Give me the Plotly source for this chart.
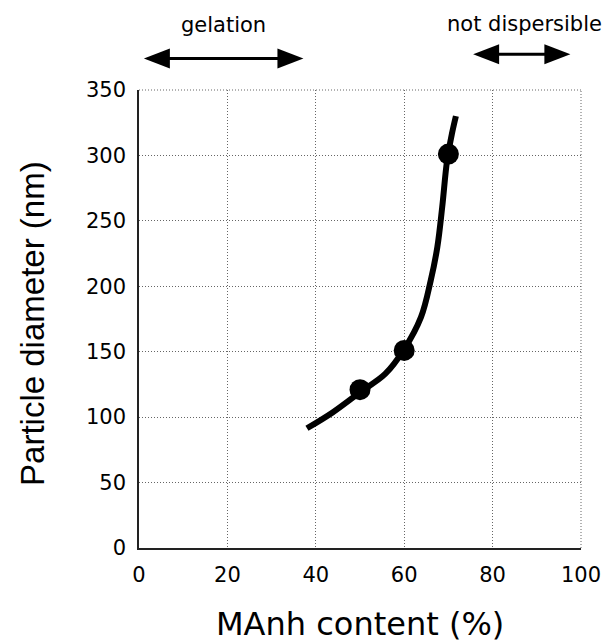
import plotly.graph_objects as go

# ---- data ----
manh_content = [50, 60, 70]            # MAnh content (%)
particle_diameter = [121, 151, 301]    # nm

fit_x = [38.0, 43.8, 50.0, 55.7, 59.9, 63.8, 66.0, 67.5, 68.6, 69.7, 70.8, 71.7]
fit_y = [91.5, 103.6, 119.0, 133.0, 151.4, 176.4, 204.4, 230.0, 260.6, 296.0, 316.6, 330.0]

x_ticks = [0, 20, 40, 60, 80, 100]
y_ticks = [0, 50, 100, 150, 200, 250, 300, 350]

region_labels = ["gelation", "not dispersible"]
region_x_ranges = [[1.1, 37.2], [75.6, 97.6]]   # extent of the double arrows (x units)

X_RANGE = [0, 100]
Y_RANGE = [0, 350]


def xpaper(v):
    return (v - X_RANGE[0]) / (X_RANGE[1] - X_RANGE[0])


fig = go.Figure()

fig.add_trace(go.Scatter(
    x=fit_x, y=fit_y, mode="lines",
    line=dict(color="black", width=6, shape="spline", smoothing=1.0),
    hoverinfo="skip", showlegend=False,
))
fig.add_trace(go.Scatter(
    x=manh_content, y=particle_diameter, mode="markers",
    marker=dict(color="black", size=21, line=dict(width=0)),
    showlegend=False,
))

FONT_H = "DejaVu Sans"
GRID_COLOR = "#666666"
GRID_DASH = "1px,2px"
axis_common = dict(
    showgrid=True, gridcolor=GRID_COLOR, gridwidth=1, griddash=GRID_DASH,
    showline=True, linecolor="#222222", linewidth=1.5,
    zeroline=False, ticks="", mirror=False,
    tickfont=dict(family=FONT_H, size=21, color="black"),
    ticklabelstandoff=7,
)

fig.update_xaxes(range=X_RANGE, tickvals=x_ticks, **axis_common)
fig.update_yaxes(range=Y_RANGE, tickvals=y_ticks, **axis_common)

shapes = []
# dotted top and right borders (grid lines at the range ends)
shapes.append(dict(type="line", xref="paper", yref="paper", x0=0, x1=1, y0=1, y1=1,
                   line=dict(color=GRID_COLOR, width=1, dash=GRID_DASH)))
shapes.append(dict(type="line", xref="paper", yref="paper", x0=1, x1=1, y0=0, y1=1,
                   line=dict(color=GRID_COLOR, width=1, dash=GRID_DASH)))

annotations = []
arrow_y = [1.069, 1.078]
label_y = [1.142, 1.144]
label_x = [0.192, 0.873]
for lab, (x0, x1), ay, ly, lx in zip(region_labels, region_x_ranges, arrow_y, label_y, label_x):
    p0, p1 = xpaper(x0), xpaper(x1)
    shapes.append(dict(type="line", xref="paper", yref="paper",
                       x0=p0 + 12 / 451, x1=p1 - 12 / 451, y0=ay, y1=ay,
                       line=dict(color="black", width=3)))
    shapes.append(dict(type="path", xref="paper", yref="paper",
                       xsizemode="pixel", ysizemode="pixel",
                       xanchor=p0, yanchor=ay,
                       path="M0,0 L26,10 L26,-10 Z",
                       fillcolor="black", line=dict(width=0)))
    shapes.append(dict(type="path", xref="paper", yref="paper",
                       xsizemode="pixel", ysizemode="pixel",
                       xanchor=p1, yanchor=ay,
                       path="M0,0 L-26,10 L-26,-10 Z",
                       fillcolor="black", line=dict(width=0)))
    annotations.append(dict(text=lab, xref="paper", yref="paper",
                            x=lx, y=ly, xanchor="center", yanchor="middle",
                            showarrow=False,
                            font=dict(family=FONT_H, size=21, color="black")))

annotations.append(dict(text="MAnh content (%)", xref="paper", yref="paper",
                        x=0.5, y=-0.166, xanchor="center", yanchor="middle",
                        showarrow=False,
                        font=dict(family=FONT_H, size=32, color="black")))
annotations.append(dict(text="Particle diameter (nm)", xref="paper", yref="paper",
                        x=-0.2425, y=0.491, xanchor="center", yanchor="middle",
                        textangle=-90, showarrow=False,
                        font=dict(family="Liberation Sans", size=33, color="black")))

fig.update_layout(
    width=613, height=643,
    margin=dict(l=139, r=23, t=90, b=95),
    paper_bgcolor="white", plot_bgcolor="white",
    shapes=shapes, annotations=annotations,
    showlegend=False,
)

fig.write_html("out.html")
